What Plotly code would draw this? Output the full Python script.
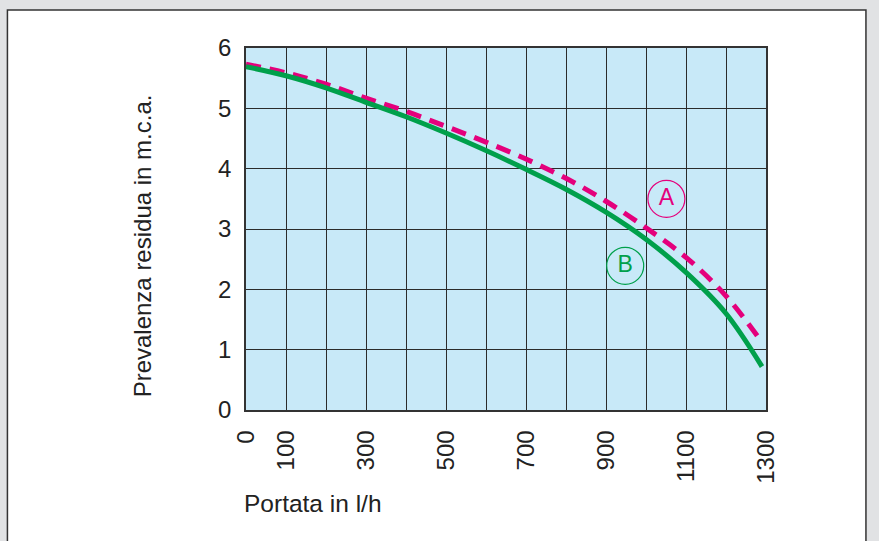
import plotly.graph_objects as go

portata = [0, 100, 200, 300, 400, 500, 600, 700, 800, 900, 1000, 1100, 1200, 1290]
curva_a = [5.73, 5.59, 5.40, 5.17, 4.95, 4.70, 4.44, 4.16, 3.84, 3.46, 3.02, 2.53, 1.89, 1.12]
curva_b = [5.69, 5.54, 5.34, 5.10, 4.86, 4.59, 4.30, 3.99, 3.66, 3.28, 2.83, 2.28, 1.60, 0.72]

x_tickvals = [0, 100, 200, 300, 400, 500, 600, 700, 800, 900, 1000, 1100, 1200, 1300]
x_ticktext = ["0", "100", "", "300", "", "500", "", "700", "", "900", "", "1100", "", "1300"]
y_tickvals = [0, 1, 2, 3, 4, 5, 6]

label_names = ["A", "B"]
label_x = [1051, 948]
label_y = [3.5, 2.39]

PINK = "#e4007c"
GREEN = "#00a04b"
FONT = "Liberation Sans, Arial, sans-serif"

fig = go.Figure()
fig.add_trace(go.Scatter(x=portata, y=curva_a, mode="lines", line=dict(color=PINK, width=5, dash="15px,9px", shape="spline"), showlegend=False))
fig.add_trace(go.Scatter(x=portata, y=curva_b, mode="lines", line=dict(color=GREEN, width=5, shape="spline"), showlegend=False))

for name, lx, ly, col in zip(label_names, label_x, label_y, [PINK, GREEN]):
    fig.add_trace(go.Scatter(x=[lx], y=[ly], mode="markers+text", text=[name],
                             textposition="middle center",
                             textfont=dict(family=FONT, size=23, color=col),
                             marker=dict(symbol="circle-open", size=37, color=col, line=dict(width=1.2, color=col)),
                             showlegend=False))

fig.update_xaxes(range=[0, 1300], tickmode="array", tickvals=x_tickvals, ticktext=x_ticktext,
                 tickangle=-90, showgrid=True, gridcolor="#2b2b2b", gridwidth=1.3,
                 showline=True, linecolor="#333", linewidth=1.5, mirror=True, zeroline=False,
                 ticks="", ticklabelstandoff=9,
                 tickfont=dict(family=FONT, size=24, color="#222"))
fig.update_yaxes(range=[0, 6], tickmode="array", tickvals=y_tickvals,
                 showgrid=True, gridcolor="#2b2b2b", gridwidth=1.3,
                 showline=True, linecolor="#333", linewidth=1.5, mirror=True, zeroline=False,
                 ticks="", ticklabelstandoff=8,
                 tickfont=dict(family=FONT, size=24, color="#222"))

# white panel with frame, then light blue plot background on top of it
fig.add_shape(type="rect", xref="paper", yref="paper", x0=-0.4588, x1=1.1922, y0=-0.4, y1=1.105,
              fillcolor="white", line=dict(color="#333", width=1.5), layer="below")
fig.add_shape(type="rect", xref="paper", yref="paper", x0=0, x1=1, y0=0, y1=1,
              fillcolor="#c8e9f8", line=dict(width=0), layer="below")

fig.add_annotation(text="Prevalenza residua in m.c.a.", xref="paper", yref="paper",
                   x=(142 - 245.7) / 520.3, y=(410 - 246) / 362, textangle=-90,
                   showarrow=False, xanchor="center", yanchor="middle",
                   font=dict(family=FONT, size=24, color="#222"))
fig.add_annotation(text="Portata in l/h", xref="paper", yref="paper",
                   x=(242 - 245.7) / 520.3, y=(410 - 503) / 362,
                   showarrow=False, xanchor="left", yanchor="middle",
                   font=dict(family=FONT, size=24.5, color="#222"))

fig.update_layout(width=879, height=541, margin=dict(l=245.7, r=113, t=48, b=131),
                  paper_bgcolor="#e1e2e4", plot_bgcolor="rgba(0,0,0,0)")

fig.write_html("out.html", config={"displayModeBar": False},
               post_script="document.body.style.margin='0';document.body.style.background='#e1e2e4';")
